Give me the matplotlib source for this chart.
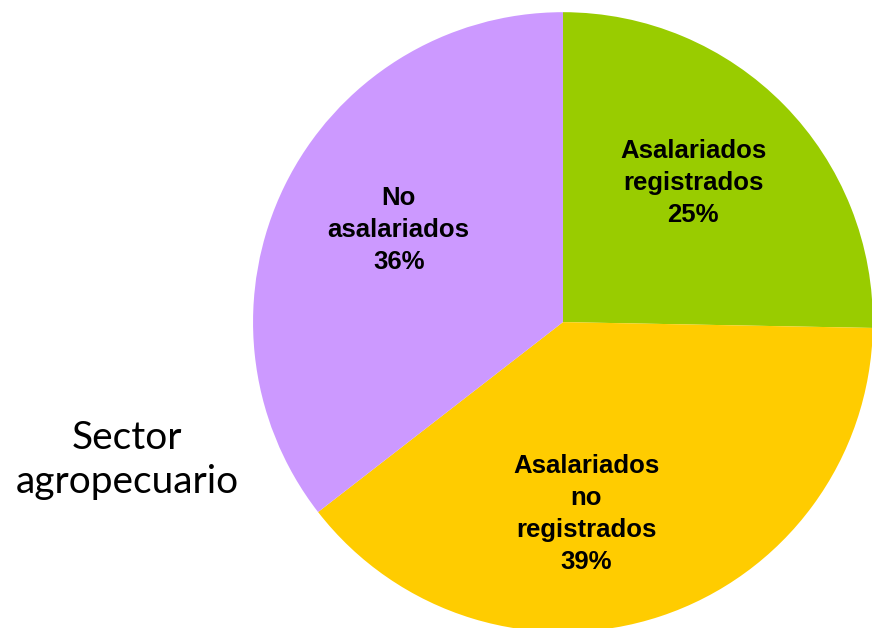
import matplotlib
matplotlib.use("Agg")
import matplotlib.pyplot as plt

categories = ["Asalariados\nregistrados", "Asalariados\nno\nregistrados", "No\nasalariados"]
# shares (labels show rounded percentages)
shares = [25.3, 39.2, 35.5]
colors = ["#99CC00", "#FFCC00", "#CC99FF"]
title = "Sector\nagropecuario"

# label centres in data units (pie radius = 1)
label_pos = [(0.42, 0.448), (0.075, -0.618), (-0.53, 0.298)]

fig = plt.figure(figsize=(8.72, 6.28), dpi=100)
ax = fig.add_axes([0.2901, -0.0064, 0.711, 0.987])

ax.pie(shares, colors=colors, startangle=90, counterclock=False, radius=1.0,
       wedgeprops=dict(linewidth=0))
ax.set_xlim(-1, 1)
ax.set_ylim(-1, 1)
ax.set_aspect("equal")
ax.axis("off")

for name, val, (x, y) in zip(categories, shares, label_pos):
    ax.text(x, y, f"{name}\n{round(val)}%", ha="center", va="center", fontsize=18.5,
            fontweight="bold", family="Liberation Sans", linespacing=1.42)

fig.text(127 / 872, 1 - 460 / 628, title, ha="center", va="center", fontsize=28,
         family="Lato", linespacing=1.3)

fig.savefig("out.png", dpi=100)
